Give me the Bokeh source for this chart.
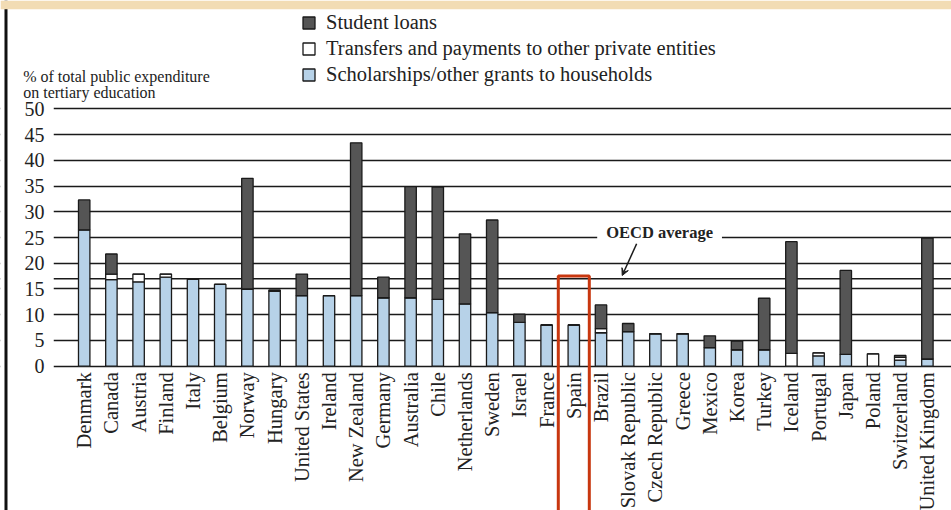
import math
from bokeh.plotting import figure
from bokeh.models import (Range1d, FixedTicker, Legend, LegendItem, Label, Arrow,
                          VeeHead, Span, BoxAnnotation, ColumnDataSource)
from bokeh.embed import file_html
from bokeh.resources import INLINE

countries = ["Denmark", "Canada", "Austria", "Finland", "Italy", "Belgium", "Norway",
             "Hungary", "United States", "Ireland", "New Zealand", "Germany", "Australia",
             "Chile", "Netherlands", "Sweden", "Israel", "France", "Spain", "Brazil",
             "Slovak Republic", "Czech Republic", "Greece", "Mexico", "Korea", "Turkey",
             "Iceland", "Portugal", "Japan", "Poland", "Switzerland", "United Kingdom"]
scholarships = [26.5, 16.8, 16.4, 17.3, 16.9, 15.9, 15.0, 14.6, 13.7, 13.7, 13.7, 13.3, 13.3,
                13.0, 12.1, 10.4, 8.5, 8.0, 8.0, 6.5, 6.7, 6.3, 6.3, 3.6, 3.2, 3.2,
                0.0, 2.0, 2.3, 0.0, 1.2, 1.4]
transfers = [0.0, 1.1, 1.5, 0.6, 0.0, 0.0, 0.0, 0.0, 0.0, 0.0, 0.0, 0.0, 0.0,
             0.0, 0.0, 0.0, 0.0, 0.0, 0.0, 0.8, 0.0, 0.0, 0.0, 0.0, 0.0, 0.0,
             2.5, 0.6, 0.0, 2.4, 0.5, 0.0]
loans = [5.8, 3.9, 0.0, 0.0, 0.0, 0.0, 21.5, 0.2, 4.2, 0.0, 29.7, 4.0, 21.6,
         21.8, 13.6, 18.0, 1.6, 0.0, 0.0, 4.6, 1.6, 0.0, 0.0, 2.3, 1.7, 10.0,
         21.7, 0.0, 16.3, 0.0, 0.4, 23.5]
y_ticks = [0, 5, 10, 15, 20, 25, 30, 35, 40, 45, 50]
oecd_average = 17.0
highlight = "Spain"
series_labels = ["Scholarships/other grants to households",
                 "Transfers and payments to other private entities",
                 "Student loans"]
y_title = ["% of total public expenditure", "on tertiary education"]

SERIF = "Liberation Serif"
INK = "#1a1a1a"
X_AXIS_AT = -1.129      # data x where the value axis sits (left end of the grid)

idx = list(range(len(countries)))
source = ColumnDataSource(dict(x=idx, scholarships=scholarships,
                               transfers=transfers, loans=loans))

p = figure(width=951, height=510, x_range=Range1d(-3.077, 31.886),
           y_range=Range1d(-28.03, 71.04),
           output_backend="svg", toolbar_location=None,
           min_border_left=0, min_border_right=0, min_border_top=0, min_border_bottom=0)
p.outline_line_color = None
p.background_fill_color = "white"
p.border_fill_color = "white"

renderers = p.vbar_stack(["scholarships", "transfers", "loans"], x="x", width=0.42,
                         fill_color=["#b7d2e8", "#ffffff", "#555555"],
                         line_color=INK, line_width=1.3, source=source)

# category axis (drawn at value 0)
p.xaxis.fixed_location = 0
p.xaxis.ticker = FixedTicker(ticks=idx)
p.xaxis.major_label_overrides = {i: c for i, c in enumerate(countries)}
p.xaxis.major_label_orientation = math.pi / 2
p.xaxis.axis_line_color = None
p.xaxis.major_tick_line_color = None
p.xaxis.minor_tick_line_color = None
p.xaxis.major_tick_out = 0
p.xaxis.major_label_standoff = 6
p.xaxis.major_label_text_font = SERIF
p.xaxis.major_label_text_font_size = "20.5px"
p.xaxis.major_label_text_color = "#222222"

# value axis
p.yaxis.fixed_location = X_AXIS_AT
p.yaxis.ticker = FixedTicker(ticks=y_ticks)
p.yaxis.axis_line_color = None
p.yaxis.major_tick_line_color = None
p.yaxis.minor_tick_line_color = None
p.yaxis.major_tick_out = 0
p.yaxis.major_label_standoff = 9
p.yaxis.major_label_text_font = SERIF
p.yaxis.major_label_text_font_size = "20px"
p.yaxis.major_label_text_color = "#222222"

p.xgrid.visible = False
p.ygrid.ticker = FixedTicker(ticks=y_ticks)
p.ygrid.grid_line_color = INK
p.ygrid.grid_line_width = 1.6
p.ygrid.level = "underlay"

# OECD average line
p.add_layout(Span(location=oecd_average, dimension="width", line_color=INK,
                  line_width=1.6, level="underlay"))
# keep grid lines to the right of the value axis
p.add_layout(BoxAnnotation(right=X_AXIS_AT + 0.01, fill_color="white", fill_alpha=1,
                           line_alpha=0, level="underlay"))

# legend
legend = Legend(items=[LegendItem(label=series_labels[2], renderers=[renderers[2]]),
                       LegendItem(label=series_labels[1], renderers=[renderers[1]]),
                       LegendItem(label=series_labels[0], renderers=[renderers[0]])],
                location=(301, 424), orientation="vertical",
                background_fill_alpha=0, border_line_color=None, padding=0, margin=0,
                spacing=3, label_height=20, glyph_height=15, glyph_width=15,
                label_standoff=10, label_text_font=SERIF, label_text_font_size="20.5px",
                label_text_color="#222222")
p.add_layout(legend)

# y axis title
for line, yb in zip(y_title, [56.28, 53.24]):
    p.add_layout(Label(x=-2.243, y=yb, text=line, text_font=SERIF, text_font_size="16px",
                       text_color="#222222", text_align="left", text_baseline="alphabetic"))

# OECD average annotation
p.add_layout(Label(x=18.86, y=25.97, text="OECD average", text_font=SERIF,
                   text_font_size="16.5px", text_font_style="bold", text_color="#222222",
                   text_align="left", text_baseline="middle",
                   background_fill_color="white", padding=9))
p.add_layout(Arrow(x_start=20.31, y_start=23.78, x_end=19.78, y_end=17.62,
                   line_color=INK, line_width=1.5,
                   end=VeeHead(size=7, line_color=INK, fill_color=INK)))

# highlight box for Spain
hi = countries.index(highlight)
p.add_layout(BoxAnnotation(left=hi - 0.57, right=hi + 0.57, top=17.5, bottom=-40,
                           fill_alpha=0, line_color="#c8370f", line_alpha=1, line_width=3,
                           level="overlay"))

# page frame: dark rule on the left and beige band on top
p.add_layout(Span(location=-2.875, dimension="height", line_color="#111111",
                  line_width=3, level="overlay"))
p.add_layout(BoxAnnotation(bottom=69.35, fill_color="#f2dcb4", fill_alpha=1,
                           line_alpha=0, level="overlay"))

open("out.html", "w").write(file_html(p, INLINE))
